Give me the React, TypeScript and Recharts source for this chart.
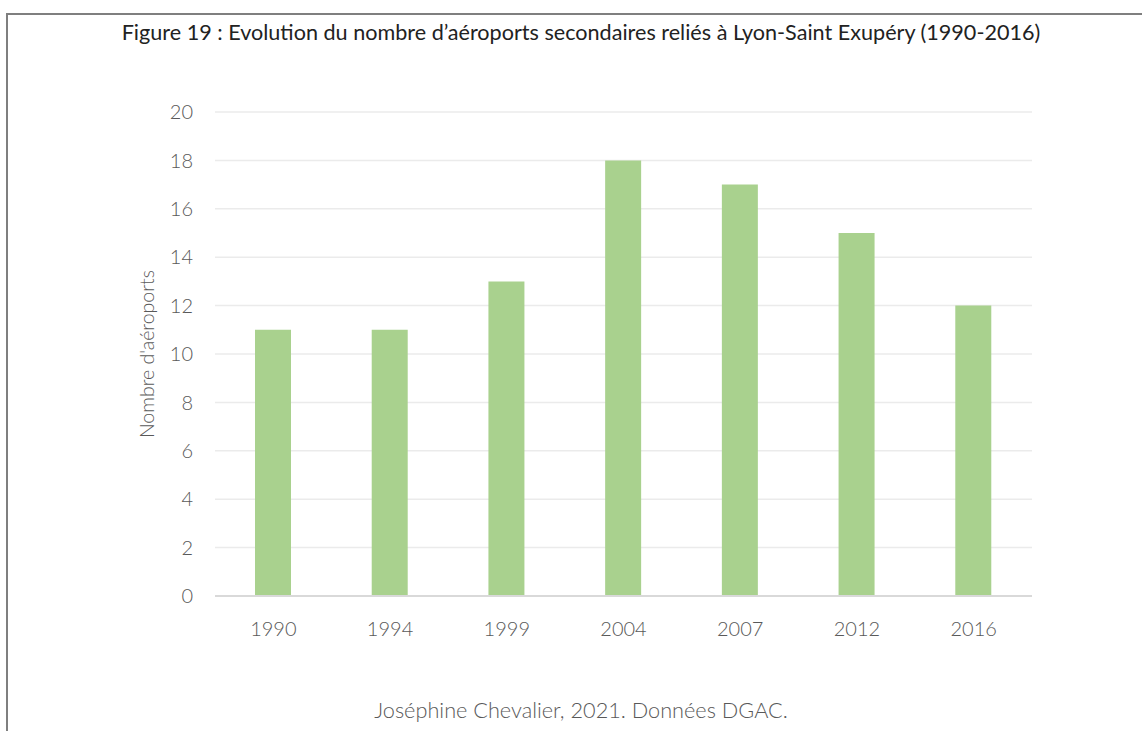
import { BarChart, Bar, XAxis, YAxis, CartesianGrid } from "recharts";

// Nombre d'aéroports secondaires reliés à Lyon-Saint Exupéry
const years = ["1990", "1994", "1999", "2004", "2007", "2012", "2016"];
const airports = [11, 11, 13, 18, 17, 15, 12];
const yTicks = [0, 2, 4, 6, 8, 10, 12, 14, 16, 18, 20];

const data = years.map((year, i) => ({ year, airports: airports[i] }));

const FONT = "Lato, 'Open Sans', sans-serif";
const GREY = "#595959";

const App = () => {
  return (
    <div
      style={{
        position: "absolute",
        left: 0,
        top: 0,
        width: 1142,
        height: 731,
        overflow: "hidden",
        background: "#fff",
        fontFamily: FONT,
      }}
    >
      {/* frame of the figure, cut by the page edges */}
      <div
        style={{
          position: "absolute",
          left: 6,
          top: 13,
          width: 1200,
          height: 800,
          borderLeft: "2px solid #7f7f7f",
          borderTop: "2px solid #7f7f7f",
        }}
      />
      <div
        style={{
          position: "absolute",
          top: 18,
          left: 0,
          width: 1162,
          textAlign: "center",
          fontSize: 21.6,
          color: "#222",
          lineHeight: "28px",
        }}
      >
        Figure 19 : Evolution du nombre d’aéroports secondaires reliés à Lyon-Saint Exupéry (1990-2016)
      </div>

      <div style={{ position: "absolute", left: 0, top: 0 }}>
        <BarChart
          width={1142}
          height={731}
          data={data}
          margin={{ top: 112, right: 110, bottom: 75, left: 0 }}
        >
          <CartesianGrid vertical={false} stroke="#ebebeb" strokeWidth={1.5} />
          <XAxis
            dataKey="year"
            height={60}
            tickLine={false}
            axisLine={{ stroke: "#d9d9d9", strokeWidth: 2 }}
            tick={{ fill: GREY, fontSize: 20, fontFamily: FONT, fontWeight: 300 }}
            tickMargin={20}
          />
          <YAxis
            width={215}
            domain={[0, 20]}
            ticks={yTicks}
            tickLine={false}
            axisLine={false}
            tickSize={0}
            tickMargin={22}
            tick={{ fill: GREY, fontSize: 20, fontFamily: FONT, fontWeight: 300 }}
            label={{
              value: "Nombre d'aéroports",
              angle: -90,
              position: "insideLeft",
              offset: 147,
              style: { fill: GREY, fontSize: 19.5, fontFamily: FONT, fontWeight: 300, textAnchor: "middle" },
            }}
          />
          <Bar dataKey="airports" fill="#a9d18e" barSize={36} isAnimationActive={false} />
        </BarChart>
      </div>

      <div
        style={{
          position: "absolute",
          top: 696,
          left: 0,
          width: 1162,
          textAlign: "center",
          fontSize: 21.7,
          color: GREY,
          fontWeight: 300,
          lineHeight: "28px",
        }}
      >
        Joséphine Chevalier, 2021. Données DGAC.
      </div>
    </div>
  );
};

export default App;
